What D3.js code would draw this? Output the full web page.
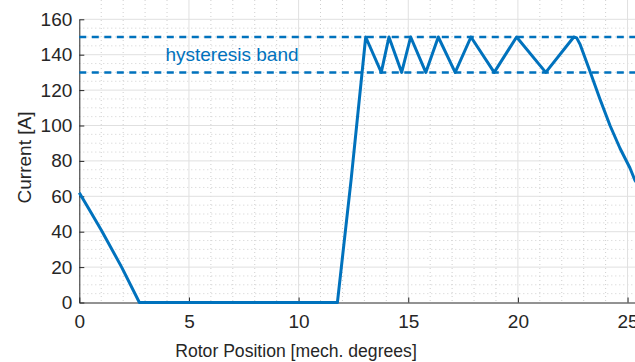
<!DOCTYPE html>
<html>
<head>
<meta charset="utf-8">
<script src="https://cdn.jsdelivr.net/npm/d3@7"></script>
<style>
  html, body { margin: 0; padding: 0; background: #fff; }
  svg { display: block; font-family: "Liberation Sans", Arial, sans-serif; }
</style>
</head>
<body>
<div id="chart"></div>
<script>
// data
var rotorPos = [0, 0.5, 1.0, 1.93, 2.74, 11.77, 12.4, 13.06, 13.77, 14.12, 14.70, 15.11, 15.80,
                16.37, 17.14, 17.86, 18.92, 19.94, 21.27, 22.55, 22.68, 22.83, 23.29, 23.74,
                24.20, 24.66, 25.11, 25.34, 25.7];
var current  = [62, 51.5, 41, 20, 0, 0, 70, 150, 130, 150, 130, 150, 130,
                150, 130, 150, 130, 150, 130, 150, 149.5, 146, 130.5, 115,
                100, 87, 76, 69, 63];
var bandLevels = [150, 130];
var bandLabel = "hysteresis band";
var xTicks = [0, 5, 10, 15, 20, 25];
var yTicks = [0, 20, 40, 60, 80, 100, 120, 140, 160];

var width = 635, height = 362;
var blue = '#0072BD', axisColor = '#262626';

var svg = d3.select('#chart').append('svg')
    .attr('width', width)
    .attr('height', height);

// plot area runs off the right edge, like the cropped original
var x = d3.scaleLinear().domain([0, 30]).range([79.3, 79.3 + 30 * 21.93]);
var y = d3.scaleLinear().domain([0, 160]).range([302.5, 19.3]);

var left = x(0), right = x(30), bottom = y(0), top = y(160);

// minor grid
var grid = svg.append('g');
grid.selectAll('.vminor')
    .data(d3.range(1, 30).filter(function(d) { return d % 5 !== 0; }))
    .enter().append('line')
    .attr('x1', function(d) { return x(d); }).attr('x2', function(d) { return x(d); })
    .attr('y1', top).attr('y2', bottom)
    .attr('stroke', '#cfcfcf').attr('stroke-width', 1).attr('stroke-dasharray', '1,3');
grid.selectAll('.hminor')
    .data(d3.range(5, 160, 5).filter(function(d) { return d % 20 !== 0; }))
    .enter().append('line')
    .attr('x1', left).attr('x2', right)
    .attr('y1', function(d) { return y(d); }).attr('y2', function(d) { return y(d); })
    .attr('stroke', '#cfcfcf').attr('stroke-width', 1).attr('stroke-dasharray', '1,3');

// major grid
grid.selectAll('.vmajor')
    .data(d3.range(5, 31, 5))
    .enter().append('line')
    .attr('x1', function(d) { return x(d); }).attr('x2', function(d) { return x(d); })
    .attr('y1', top).attr('y2', bottom)
    .attr('stroke', '#e0e0e0').attr('stroke-width', 1);
grid.selectAll('.hmajor')
    .data(yTicks.slice(1))
    .enter().append('line')
    .attr('x1', left).attr('x2', right)
    .attr('y1', function(d) { return y(d); }).attr('y2', function(d) { return y(d); })
    .attr('stroke', '#e0e0e0').attr('stroke-width', 1);

// axes, MATLAB style: ticks point inward
var xAxis = svg.append('g')
    .attr('transform', 'translate(0,' + bottom + ')')
    .call(d3.axisBottom(x).tickValues(xTicks).tickSizeInner(-5).tickSizeOuter(0).tickPadding(12));
var yAxis = svg.append('g')
    .attr('transform', 'translate(' + left + ',0)')
    .call(d3.axisLeft(y).tickValues(yTicks).tickSizeInner(-5).tickSizeOuter(0).tickPadding(7));

[xAxis, yAxis].forEach(function(a) {
    a.select('.domain').attr('stroke', axisColor).attr('stroke-width', 1);
    a.selectAll('.tick line').attr('stroke', axisColor);
    a.selectAll('.tick text')
        .attr('fill', axisColor)
        .style('font-size', '19px')
        .style('font-family', '"Liberation Sans", Arial, sans-serif');
});

// hysteresis band
svg.selectAll('.band')
    .data(bandLevels)
    .enter().append('line')
    .attr('x1', left).attr('x2', right)
    .attr('y1', function(d) { return y(d); }).attr('y2', function(d) { return y(d); })
    .attr('stroke', blue).attr('stroke-width', 2.5).attr('stroke-dasharray', '7,5.5');

svg.append('text')
    .attr('x', 232).attr('y', y(140) + 6.5)
    .attr('text-anchor', 'middle')
    .attr('fill', blue)
    .style('font-size', '19px')
    .text(bandLabel);

// current trace
var line = d3.line()
    .x(function(d, i) { return x(rotorPos[i]); })
    .y(function(d) { return y(d); });

svg.append('path')
    .datum(current)
    .attr('d', line)
    .attr('fill', 'none')
    .attr('stroke', blue)
    .attr('stroke-width', 3)
    .attr('stroke-linejoin', 'round');

// labels
svg.append('text')
    .attr('x', 296).attr('y', 357)
    .attr('text-anchor', 'middle')
    .attr('fill', axisColor)
    .style('font-size', '17.6px')
    .text('Rotor Position [mech. degrees]');

svg.append('text')
    .attr('transform', 'translate(31,157.5) rotate(-90)')
    .attr('text-anchor', 'middle')
    .attr('fill', axisColor)
    .style('font-size', '19px')
    .text('Current [A]');
</script>
</body>
</html>
